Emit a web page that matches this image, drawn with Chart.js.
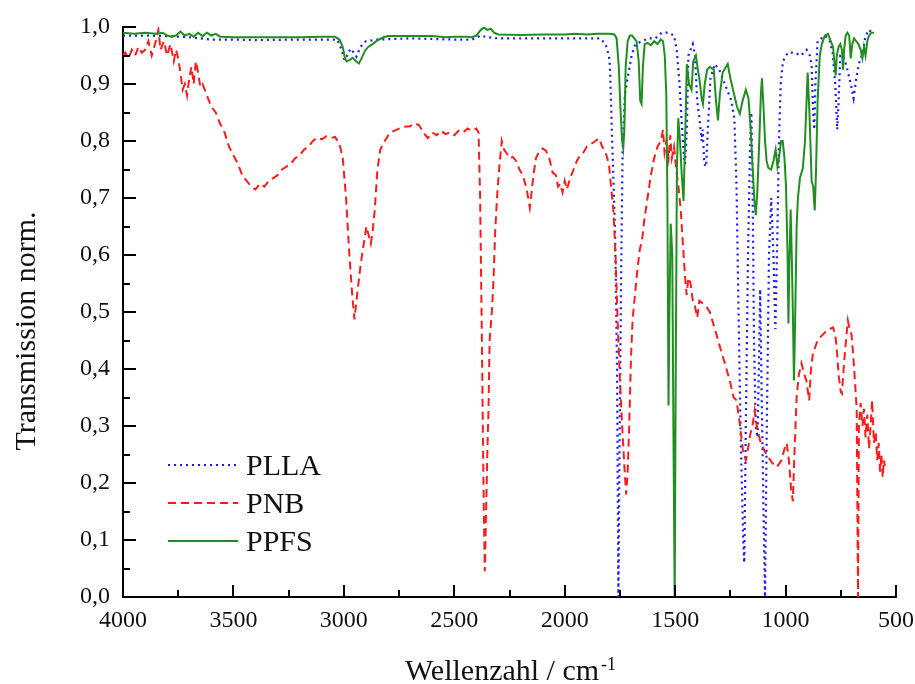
<!DOCTYPE html>
<html>
<head>
<meta charset="utf-8">
<script src="https://cdn.jsdelivr.net/npm/chart.js@4.4.0/dist/chart.umd.min.js"></script>
<style>
  html, body { margin: 0; padding: 0; background: #fff; }
  #c { display: block; }
</style>
</head>
<body>
<canvas id="c" width="915" height="684"></canvas>
<script>
// PLLA (blue dotted)
var pllaWave = [4000, 3900, 3800, 3700, 3600, 3500, 3400, 3200, 3100, 3030, 3010, 2997, 2985, 2970, 2955, 2943, 2925, 2900, 2850, 2700,
  2500, 2420, 2380, 2350, 2300, 2100, 1900, 1840, 1815, 1800, 1795, 1786, 1772, 1763, 1757, 1752, 1745, 1738, 1728, 1720,
  1697, 1680, 1650, 1620, 1590, 1560, 1530, 1505, 1493, 1480, 1470, 1460, 1455, 1447, 1440, 1420, 1410, 1400, 1390, 1380,
  1375, 1368, 1360, 1352, 1340, 1320, 1300, 1280, 1265, 1245, 1232, 1222, 1213, 1203, 1192, 1187, 1180, 1170, 1160, 1155,
  1150, 1143, 1135, 1127, 1120, 1115, 1108, 1100, 1093, 1085, 1075, 1065, 1055, 1046, 1038, 1030, 1022, 1012, 990, 960,
  930, 905, 890, 882, 875, 870, 865, 855, 822, 800, 787, 775, 766, 760, 752, 740, 723, 705, 692, 680,
  665, 650, 640, 625, 605];
var pllaT = [0.985, 0.985, 0.984, 0.982, 0.978, 0.978, 0.977, 0.978, 0.978, 0.978, 0.96, 0.942, 0.95, 0.962, 0.955, 0.948, 0.965, 0.975, 0.978, 0.98,
  0.978, 0.978, 0.985, 0.982, 0.98, 0.98, 0.98, 0.98, 0.97, 0.95, 0.93, 0.81, 0.64, 0.4, 0.0, 0.25, 0.55, 0.78, 0.88, 0.9,
  0.95, 0.97, 0.975, 0.98, 0.98, 0.99, 0.99, 0.985, 0.96, 0.9, 0.83, 0.77, 0.76, 0.82, 0.95, 0.97, 0.95, 0.87, 0.84, 0.8,
  0.82, 0.76, 0.755, 0.82, 0.91, 0.935, 0.925, 0.905, 0.89, 0.87, 0.84, 0.72, 0.5, 0.28, 0.1, 0.06, 0.3, 0.6, 0.8, 0.85,
  0.75, 0.45, 0.3, 0.28, 0.42, 0.54, 0.35, 0.15, 0.0, 0.3, 0.6, 0.7, 0.6, 0.47, 0.62, 0.8, 0.9, 0.94, 0.955, 0.955,
  0.95, 0.96, 0.95, 0.93, 0.85, 0.82, 0.9, 0.975, 0.985, 0.975, 0.955, 0.9, 0.82, 0.87, 0.95, 0.95, 0.93, 0.9, 0.875, 0.91,
  0.94, 0.955, 0.98, 0.995, 0.99];

// PNB (red dashed)
var pnbWave = [4000, 3990, 3975, 3960, 3945, 3930, 3915, 3900, 3885, 3870, 3855, 3840, 3830, 3815, 3800, 3785, 3770, 3760, 3750, 3740,
  3730, 3720, 3710, 3700, 3690, 3680, 3670, 3660, 3650, 3640, 3620, 3600, 3580, 3560, 3540, 3520, 3500, 3480, 3460, 3440,
  3420, 3400, 3380, 3360, 3340, 3320, 3300, 3280, 3260, 3240, 3220, 3200, 3180, 3160, 3140, 3120, 3100, 3080, 3060, 3040,
  3020, 3005, 2990, 2975, 2962, 2952, 2940, 2925, 2910, 2898, 2888, 2878, 2870, 2860, 2848, 2835, 2815, 2790, 2760, 2730,
  2700, 2680, 2660, 2640, 2620, 2600, 2580, 2560, 2540, 2520, 2500, 2480, 2460, 2440, 2420, 2400, 2390, 2383, 2375, 2368,
  2362, 2356, 2350, 2345, 2340, 2330, 2322, 2315, 2305, 2295, 2285, 2275, 2262, 2250, 2235, 2220, 2205, 2190, 2175, 2165,
  2158, 2150, 2140, 2130, 2115, 2100, 2085, 2070, 2055, 2040, 2030, 2020, 2010, 2000, 1990, 1975, 1960, 1945, 1930, 1915,
  1900, 1880, 1860, 1845, 1830, 1815, 1800, 1790, 1780, 1770, 1760, 1750, 1740, 1730, 1722, 1715, 1708, 1700, 1692, 1682,
  1672, 1660, 1650, 1640, 1625, 1610, 1595, 1580, 1565, 1555, 1548, 1540, 1530, 1522, 1515, 1505, 1495, 1485, 1475, 1465,
  1455, 1448, 1440, 1430, 1420, 1410, 1400, 1390, 1375, 1360, 1343, 1320, 1298, 1275, 1253, 1235, 1222, 1206, 1193, 1180,
  1170, 1160, 1150, 1140, 1130, 1116, 1100, 1086, 1060, 1040, 1018, 1005, 995, 985, 975, 967, 960, 950, 940, 928,
  915, 906, 893, 885, 876, 860, 845, 820, 800, 785, 775, 769, 760, 750, 745, 737, 732, 724, 718, 710,
  701, 693, 686, 678, 672, 668, 660, 652, 645, 638, 630, 622, 615, 608, 600, 592, 585, 578, 572, 566,
  560, 555, 550];
var pnbT = [0.95, 0.955, 0.945, 0.96, 0.95, 0.965, 0.955, 0.96, 0.975, 0.95, 0.97, 0.995, 0.96, 0.975, 0.95, 0.97, 0.94, 0.96, 0.945, 0.92,
  0.89, 0.9, 0.88, 0.91, 0.93, 0.9, 0.94, 0.92, 0.895, 0.9, 0.88, 0.86, 0.85, 0.83, 0.815, 0.79, 0.775, 0.76, 0.74, 0.73,
  0.72, 0.715, 0.725, 0.72, 0.73, 0.735, 0.74, 0.75, 0.755, 0.76, 0.77, 0.775, 0.785, 0.79, 0.8, 0.806, 0.803, 0.808, 0.805, 0.807,
  0.795, 0.77, 0.7, 0.6, 0.53, 0.487, 0.53, 0.58, 0.62, 0.65, 0.635, 0.62, 0.64, 0.68, 0.75, 0.785, 0.8, 0.815, 0.82, 0.825,
  0.826, 0.831, 0.828, 0.815, 0.805, 0.815, 0.81, 0.818, 0.812, 0.815, 0.81, 0.818, 0.815, 0.822, 0.818, 0.822, 0.815, 0.7, 0.45, 0.2,
  0.045, 0.15, 0.26, 0.33, 0.45, 0.5, 0.56, 0.64, 0.71, 0.76, 0.8, 0.785, 0.778, 0.77, 0.772, 0.765, 0.75, 0.74, 0.72, 0.7,
  0.683, 0.71, 0.745, 0.77, 0.782, 0.787, 0.783, 0.77, 0.745, 0.74, 0.72, 0.725, 0.71, 0.73, 0.715, 0.735, 0.75, 0.765, 0.775, 0.78,
  0.79, 0.795, 0.8, 0.805, 0.79, 0.78, 0.76, 0.72, 0.68, 0.6, 0.48, 0.38, 0.3, 0.23, 0.18, 0.22, 0.3, 0.42, 0.49, 0.53,
  0.57, 0.61, 0.625, 0.66, 0.7, 0.74, 0.77, 0.79, 0.8, 0.82, 0.78, 0.8, 0.77, 0.81, 0.77, 0.79, 0.75, 0.72, 0.68, 0.62,
  0.56, 0.53, 0.56, 0.55, 0.52, 0.51, 0.49, 0.52, 0.515, 0.51, 0.5, 0.47, 0.44, 0.41, 0.38, 0.35, 0.345, 0.3, 0.257, 0.24,
  0.26, 0.285, 0.3, 0.327, 0.3, 0.275, 0.26, 0.25, 0.235, 0.228, 0.24, 0.26, 0.27, 0.24, 0.19, 0.168, 0.25, 0.35, 0.39, 0.41,
  0.39, 0.38, 0.345, 0.4, 0.427, 0.445, 0.455, 0.465, 0.47, 0.473, 0.46, 0.44, 0.39, 0.36, 0.357, 0.4, 0.426, 0.46, 0.485, 0.47,
  0.46, 0.42, 0.38, 0.33, 0.0, 0.3, 0.34, 0.3, 0.33, 0.28, 0.32, 0.26, 0.3, 0.345, 0.27, 0.29, 0.24, 0.27, 0.22, 0.25,
  0.21, 0.24, 0.23];

// PPFS (green solid)
var ppfsWave = [4000, 3950, 3900, 3850, 3820, 3800, 3780, 3760, 3740, 3720, 3700, 3680, 3660, 3640, 3620, 3600, 3580, 3560, 3500, 3400,
  3300, 3200, 3100, 3040, 3020, 3005, 2995, 2988, 2975, 2960, 2945, 2932, 2920, 2905, 2890, 2870, 2850, 2820, 2800, 2700,
  2600, 2540, 2500, 2440, 2420, 2400, 2380, 2365, 2350, 2335, 2320, 2300, 2200, 2100, 2000, 1950, 1900, 1850, 1800, 1775,
  1765, 1755, 1748, 1740, 1735, 1730, 1724, 1715, 1705, 1695, 1685, 1675, 1665, 1658, 1652, 1646, 1638, 1625, 1610, 1595,
  1580, 1565, 1555, 1547, 1540, 1535, 1530, 1526, 1520, 1513, 1507, 1502, 1498, 1492, 1486, 1478, 1470, 1462, 1455, 1447,
  1437, 1426, 1418, 1406, 1395, 1389, 1380, 1374, 1366, 1355, 1343, 1325, 1315, 1306, 1298, 1285, 1270, 1262, 1250, 1235,
  1220, 1207, 1195, 1180, 1168, 1158, 1150, 1142, 1135, 1128, 1120, 1112, 1107, 1100, 1093, 1086, 1078, 1065, 1055, 1045,
  1037, 1030, 1020, 1013, 1005, 998, 991, 987, 983, 977, 972, 967, 962, 956, 950, 944, 935, 922, 912, 900,
  892, 882, 875, 868, 862, 855, 845, 836, 822, 808, 795, 785, 778, 773, 768, 760, 752, 745, 740, 735,
  728, 720, 712, 705, 698, 690, 680, 670, 660, 652, 645, 638, 630, 622, 612, 600];
var ppfsT = [0.99, 0.988, 0.99, 0.988, 0.99, 0.985, 0.983, 0.985, 0.992, 0.985, 0.988, 0.983, 0.99, 0.984, 0.99, 0.985, 0.988, 0.983, 0.982, 0.982,
  0.982, 0.982, 0.983, 0.983, 0.978, 0.965, 0.945, 0.94, 0.942, 0.946, 0.94, 0.936, 0.945, 0.958, 0.965, 0.97, 0.976, 0.982, 0.984, 0.984,
  0.984, 0.982, 0.983, 0.983, 0.982, 0.985, 0.995, 0.999, 0.995, 0.997, 0.99, 0.987, 0.986, 0.987, 0.987, 0.988, 0.987, 0.988, 0.988, 0.987,
  0.98, 0.93, 0.86, 0.8, 0.787, 0.82, 0.93, 0.975, 0.985, 0.985, 0.98, 0.975, 0.94, 0.87, 0.865, 0.93, 0.97, 0.972, 0.968, 0.975,
  0.97, 0.978, 0.975, 0.95, 0.88, 0.7, 0.336, 0.5, 0.655, 0.6, 0.25, 0.0, 0.35, 0.75, 0.84, 0.8, 0.74, 0.695, 0.8, 0.935,
  0.9, 0.89, 0.94, 0.95, 0.92, 0.906, 0.875, 0.865, 0.9, 0.925, 0.93, 0.925, 0.87, 0.836, 0.88, 0.92, 0.93, 0.935, 0.91, 0.885,
  0.86, 0.848, 0.87, 0.89, 0.875, 0.82, 0.76, 0.7, 0.67, 0.71, 0.79, 0.88, 0.91, 0.86, 0.8, 0.765, 0.753, 0.75, 0.765, 0.785,
  0.755, 0.77, 0.8, 0.8, 0.77, 0.72, 0.6, 0.48, 0.58, 0.68, 0.6, 0.5, 0.38, 0.5, 0.65, 0.7, 0.735, 0.752, 0.8, 0.92,
  0.85, 0.73, 0.72, 0.678, 0.75, 0.87, 0.95, 0.97, 0.985, 0.988, 0.975, 0.965, 0.935, 0.915, 0.95, 0.965, 0.97, 0.96, 0.925, 0.96,
  0.985, 0.99, 0.985, 0.945, 0.97, 0.98, 0.975, 0.97, 0.96, 0.945, 0.965, 0.95, 0.975, 0.985, 0.99, 0.99];

var seriesNames = ['PLLA', 'PNB', 'PPFS'];
var xTickValues = [4000, 3500, 3000, 2500, 2000, 1500, 1000, 500];

var FONT = '"Liberation Serif", "Times New Roman", serif';

function pairs(w, t) {
  return w.map(function (v, i) { return { x: v, y: t[i] }; });
}

// inward ticks, axis titles and the legend inside the plot
var decor = {
  id: 'decor',
  afterDraw: function (chart) {
    var ctx = chart.ctx, xs = chart.scales.x, ys = chart.scales.y, a = chart.chartArea;
    ctx.save();
    ctx.strokeStyle = '#000';
    ctx.lineWidth = 2;
    ctx.beginPath();
    for (var w = 500; w <= 4000; w += 250) {
      var px = Math.round(xs.getPixelForValue(w));
      var len = (w % 500 === 0) ? 12 : 7;
      ctx.moveTo(px, a.bottom);
      ctx.lineTo(px, a.bottom - len);
    }
    for (var i = 0; i <= 20; i++) {
      var py = Math.round(ys.getPixelForValue(i / 20));
      var len2 = (i % 2 === 0) ? 13 : 7;
      ctx.moveTo(a.left, py);
      ctx.lineTo(a.left + len2, py);
    }
    ctx.stroke();

    // x title with superscript
    ctx.fillStyle = '#111';
    ctx.textBaseline = 'alphabetic';
    ctx.textAlign = 'left';
    ctx.font = '30px ' + FONT;
    var main = 'Wellenzahl / cm';
    var mw = ctx.measureText(main).width;
    ctx.font = '18px ' + FONT;
    var sw = ctx.measureText('-1').width;
    var x0 = (a.left + a.right) / 2 - (mw + sw) / 2;
    ctx.font = '30px ' + FONT;
    ctx.fillText(main, x0, 680);
    ctx.font = '18px ' + FONT;
    ctx.fillText('-1', x0 + mw + 2, 670);

    // y title
    ctx.save();
    ctx.translate(35, 331);
    ctx.rotate(-Math.PI / 2);
    ctx.textAlign = 'center';
    ctx.font = '30px ' + FONT;
    ctx.fillText('Transmission norm.', 0, 0);
    ctx.restore();

    // legend
    var rows = [465, 503, 541];
    chart.data.datasets.forEach(function (ds, k) {
      var yy = rows[k];
      ctx.save();
      ctx.strokeStyle = ds.borderColor;
      ctx.lineWidth = ds.borderWidth;
      ctx.setLineDash(ds.borderDash || []);
      ctx.beginPath();
      ctx.moveTo(168, yy);
      ctx.lineTo(238, yy);
      ctx.stroke();
      ctx.restore();
      ctx.fillStyle = '#111';
      ctx.font = '30px ' + FONT;
      ctx.textAlign = 'left';
      ctx.fillText(ds.label, 246, yy + 10);
    });
    ctx.restore();
  }
};

var ctx = document.getElementById('c').getContext('2d');
var chart = new Chart(ctx, {
  type: 'line',
  data: {
    datasets: [{
      label: seriesNames[0],
      data: pairs(pllaWave, pllaT),
      borderColor: '#1a1aff',
      borderWidth: 2.2,
      borderDash: [2, 4],
      order: 2
    }, {
      label: seriesNames[1],
      data: pairs(pnbWave, pnbT),
      borderColor: '#ff1a1a',
      borderWidth: 2,
      borderDash: [8, 5],
      order: 1
    }, {
      label: seriesNames[2],
      data: pairs(ppfsWave, ppfsT),
      borderColor: '#1f8f1f',
      borderWidth: 2,
      order: 0
    }]
  },
  options: {
    responsive: false,
    animation: false,
    devicePixelRatio: 1,
    layout: { padding: { top: 27, right: 19, left: 0, bottom: 0 } },
    elements: { point: { radius: 0 }, line: { tension: 0, fill: false } },
    plugins: { legend: { display: false }, tooltip: { enabled: false } },
    scales: {
      x: {
        type: 'linear',
        reverse: true,
        min: 500,
        max: 4000,
        afterFit: function (s) { s.height = 87; s.paddingLeft = 0; s.paddingRight = 0; },
        afterBuildTicks: function (s) { s.ticks = xTickValues.map(function (v) { return { value: v }; }); },
        grid: { display: true, drawOnChartArea: false, drawTicks: false },
        border: { display: true, color: '#000', width: 2 },
        ticks: {
          padding: 9,
          color: '#111',
          font: { family: FONT, size: 24 },
          maxRotation: 0,
          callback: function (v) { return String(v); }
        }
      },
      y: {
        min: 0,
        max: 1,
        afterFit: function (s) { s.width = 123; s.paddingTop = 0; s.paddingBottom = 0; },
        grid: { display: true, drawOnChartArea: false, drawTicks: false },
        border: { display: true, color: '#000', width: 2 },
        ticks: {
          stepSize: 0.1,
          padding: 13,
          color: '#111',
          font: { family: FONT, size: 24 },
          callback: function (v) { return v.toFixed(1).replace('.', ','); }
        }
      }
    }
  },
  plugins: [decor]
});
</script>
</body>
</html>
